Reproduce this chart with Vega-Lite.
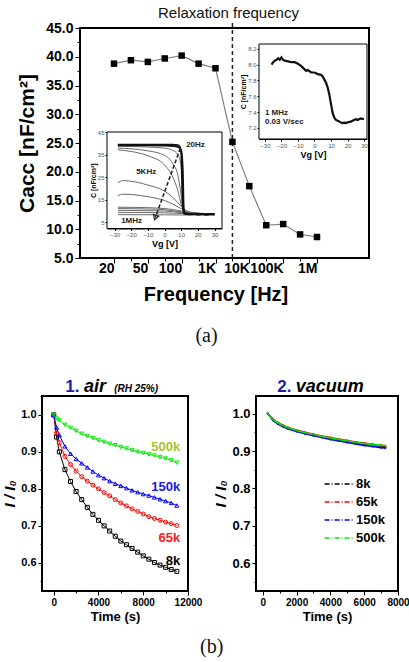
{
 "$schema": "https://vega.github.io/schema/vega-lite/v6.json",
 "padding": {"left": 2, "top": 5, "right": 0, "bottom": 2},
 "background": "white",
 "config": {
   "font": "Liberation Sans",
   "view": {"stroke": "black", "strokeWidth": 2},
   "axis": {"grid": false, "domainColor": "black", "tickColor": "black", "labelColor": "black", "titleColor": "black", "labelFontWeight": "bold", "titleFontWeight": "bold", "labelOverlap": false, "labelFlush": false}
 },
 "datasets": {
   "main": [
     {"freq": "20", "C": 38.8}, {"freq": "30", "C": 39.4}, {"freq": "50", "C": 39.1}, {"freq": "70", "C": 39.7},
     {"freq": "100", "C": 40.2}, {"freq": "500", "C": 38.8}, {"freq": "1K", "C": 38.0}, {"freq": "5K", "C": 25.2},
     {"freq": "10K", "C": 17.5}, {"freq": "50K", "C": 10.7}, {"freq": "100K", "C": 10.9}, {"freq": "500K", "C": 9.1},
     {"freq": "1M", "C": 8.65}
   ],
   "insetL": [
     {"curve": "c1", "Vg": -28, "C": 39.6}, {"curve": "c1", "Vg": -20, "C": 39.5}, {"curve": "c1", "Vg": -10, "C": 39.6}, {"curve": "c1", "Vg": 0, "C": 39.5}, {"curve": "c1", "Vg": 5, "C": 39.5}, {"curve": "c1", "Vg": 8, "C": 39.3}, {"curve": "c1", "Vg": 9, "C": 38.8}, {"curve": "c1", "Vg": 10, "C": 36}, {"curve": "c1", "Vg": 10.5, "C": 24}, {"curve": "c1", "Vg": 11, "C": 12}, {"curve": "c1", "Vg": 11.5, "C": 9.2}, {"curve": "c1", "Vg": 12, "C": 8.6}, {"curve": "c1", "Vg": 15, "C": 8.4}, {"curve": "c1", "Vg": 18, "C": 8.7}, {"curve": "c1", "Vg": 20, "C": 8.3}, {"curve": "c1", "Vg": 23, "C": 8.6}, {"curve": "c1", "Vg": 25, "C": 8.2}, {"curve": "c1", "Vg": 28, "C": 8.6}, {"curve": "c1", "Vg": 30, "C": 8.3},
     {"curve": "c2", "Vg": -28, "C": 39.2}, {"curve": "c2", "Vg": -10, "C": 39.2}, {"curve": "c2", "Vg": 0, "C": 39.1}, {"curve": "c2", "Vg": 5, "C": 38.9}, {"curve": "c2", "Vg": 8, "C": 38.5}, {"curve": "c2", "Vg": 10, "C": 37}, {"curve": "c2", "Vg": 11, "C": 28}, {"curve": "c2", "Vg": 11.5, "C": 12}, {"curve": "c2", "Vg": 12, "C": 9.2}, {"curve": "c2", "Vg": 15, "C": 8.6}, {"curve": "c2", "Vg": 30, "C": 8.5},
     {"curve": "c3", "Vg": -28, "C": 38.8}, {"curve": "c3", "Vg": -10, "C": 38.5}, {"curve": "c3", "Vg": 0, "C": 38}, {"curve": "c3", "Vg": 5, "C": 37}, {"curve": "c3", "Vg": 8, "C": 35}, {"curve": "c3", "Vg": 10, "C": 30}, {"curve": "c3", "Vg": 11, "C": 14}, {"curve": "c3", "Vg": 12, "C": 9.3}, {"curve": "c3", "Vg": 15, "C": 8.7}, {"curve": "c3", "Vg": 30, "C": 8.5},
     {"curve": "c4", "Vg": -28, "C": 38}, {"curve": "c4", "Vg": -20, "C": 37.7}, {"curve": "c4", "Vg": -10, "C": 36.8}, {"curve": "c4", "Vg": 0, "C": 34.8}, {"curve": "c4", "Vg": 5, "C": 31}, {"curve": "c4", "Vg": 8, "C": 26}, {"curve": "c4", "Vg": 10, "C": 17}, {"curve": "c4", "Vg": 11, "C": 11}, {"curve": "c4", "Vg": 12, "C": 9.3}, {"curve": "c4", "Vg": 15, "C": 8.8}, {"curve": "c4", "Vg": 30, "C": 8.5},
     {"curve": "c5", "Vg": -28, "C": 37.2}, {"curve": "c5", "Vg": -20, "C": 36.5}, {"curve": "c5", "Vg": -10, "C": 34.6}, {"curve": "c5", "Vg": 0, "C": 30.5}, {"curve": "c5", "Vg": 5, "C": 25}, {"curve": "c5", "Vg": 8, "C": 19}, {"curve": "c5", "Vg": 10, "C": 13}, {"curve": "c5", "Vg": 12, "C": 9.8}, {"curve": "c5", "Vg": 15, "C": 9}, {"curve": "c5", "Vg": 30, "C": 8.6},
     {"curve": "c6", "Vg": -28, "C": 22.5}, {"curve": "c6", "Vg": -25, "C": 23.5}, {"curve": "c6", "Vg": -20, "C": 23.2}, {"curve": "c6", "Vg": -10, "C": 21.5}, {"curve": "c6", "Vg": 0, "C": 18.8}, {"curve": "c6", "Vg": 5, "C": 16}, {"curve": "c6", "Vg": 10, "C": 12}, {"curve": "c6", "Vg": 13, "C": 10}, {"curve": "c6", "Vg": 15, "C": 9.4}, {"curve": "c6", "Vg": 20, "C": 8.9}, {"curve": "c6", "Vg": 30, "C": 8.6},
     {"curve": "c7", "Vg": -28, "C": 16.8}, {"curve": "c7", "Vg": -25, "C": 17.4}, {"curve": "c7", "Vg": -20, "C": 17.3}, {"curve": "c7", "Vg": -10, "C": 16.3}, {"curve": "c7", "Vg": 0, "C": 14.6}, {"curve": "c7", "Vg": 5, "C": 13}, {"curve": "c7", "Vg": 10, "C": 11}, {"curve": "c7", "Vg": 15, "C": 9.5}, {"curve": "c7", "Vg": 20, "C": 8.9}, {"curve": "c7", "Vg": 30, "C": 8.6},
     {"curve": "c8", "Vg": -28, "C": 11.6}, {"curve": "c8", "Vg": -10, "C": 11.4}, {"curve": "c8", "Vg": 0, "C": 11}, {"curve": "c8", "Vg": 5, "C": 10.6}, {"curve": "c8", "Vg": 10, "C": 9.9}, {"curve": "c8", "Vg": 15, "C": 9.2}, {"curve": "c8", "Vg": 30, "C": 8.6},
     {"curve": "c9", "Vg": -28, "C": 11}, {"curve": "c9", "Vg": -10, "C": 10.8}, {"curve": "c9", "Vg": 0, "C": 10.5}, {"curve": "c9", "Vg": 10, "C": 9.5}, {"curve": "c9", "Vg": 15, "C": 9}, {"curve": "c9", "Vg": 30, "C": 8.5},
     {"curve": "c10", "Vg": -28, "C": 10.2}, {"curve": "c10", "Vg": 0, "C": 9.9}, {"curve": "c10", "Vg": 10, "C": 9.2}, {"curve": "c10", "Vg": 15, "C": 8.8}, {"curve": "c10", "Vg": 30, "C": 8.4},
     {"curve": "c11", "Vg": -28, "C": 9.3}, {"curve": "c11", "Vg": 0, "C": 9.1}, {"curve": "c11", "Vg": 15, "C": 8.6}, {"curve": "c11", "Vg": 30, "C": 8.3},
     {"curve": "c12", "Vg": -28, "C": 8.3}, {"curve": "c12", "Vg": 0, "C": 8.2}, {"curve": "c12", "Vg": 30, "C": 8.0}
   ],
   "insetLLabels": [
     {"label": "20Hz", "Vg": 13, "C": 39.5},
     {"label": "5KHz", "Vg": -17, "C": 27.5},
     {"label": "1MHz", "Vg": -26, "C": 5.3}
   ],
   "arrowL": [{"Vg": 9.5, "C": 38, "Vg2": -5.5, "C2": 7}],
   "insetR": [
     {"Vg": -26, "C": 8.0}, {"Vg": -25, "C": 8.03}, {"Vg": -24, "C": 8.05}, {"Vg": -23, "C": 8.06}, {"Vg": -22, "C": 8.08}, {"Vg": -21, "C": 8.06}, {"Vg": -20, "C": 8.09}, {"Vg": -19, "C": 8.06}, {"Vg": -18, "C": 8.05}, {"Vg": -16, "C": 8.04}, {"Vg": -14, "C": 8.03}, {"Vg": -12, "C": 8.03}, {"Vg": -10, "C": 8.01}, {"Vg": -8, "C": 7.98}, {"Vg": -6, "C": 7.94}, {"Vg": -5, "C": 7.92}, {"Vg": -4, "C": 7.93}, {"Vg": -2, "C": 7.9}, {"Vg": 0, "C": 7.9}, {"Vg": 2, "C": 7.88}, {"Vg": 4, "C": 7.87}, {"Vg": 5, "C": 7.85}, {"Vg": 6, "C": 7.81}, {"Vg": 7, "C": 7.77}, {"Vg": 8, "C": 7.71}, {"Vg": 9, "C": 7.62}, {"Vg": 10, "C": 7.5}, {"Vg": 11, "C": 7.39}, {"Vg": 12, "C": 7.33}, {"Vg": 13, "C": 7.3}, {"Vg": 14, "C": 7.29}, {"Vg": 15, "C": 7.28}, {"Vg": 16, "C": 7.27}, {"Vg": 17, "C": 7.26}, {"Vg": 18, "C": 7.27}, {"Vg": 19, "C": 7.26}, {"Vg": 20, "C": 7.27}, {"Vg": 22, "C": 7.28}, {"Vg": 24, "C": 7.3}, {"Vg": 25, "C": 7.31}, {"Vg": 26, "C": 7.3}, {"Vg": 28, "C": 7.32}, {"Vg": 30, "C": 7.31}
   ],
   "insetRLabels": [
     {"label": "1 MHz", "Vg": -30, "C": 7.39},
     {"label": "0.03 V/sec", "Vg": -30, "C": 7.27}
   ],
   "air": [
     {"freq": "8k", "t": 0, "r": 1.0}, {"freq": "8k", "t": 250, "r": 0.94}, {"freq": "8k", "t": 500, "r": 0.9}, {"freq": "8k", "t": 1000, "r": 0.852}, {"freq": "8k", "t": 1500, "r": 0.82}, {"freq": "8k", "t": 2000, "r": 0.793}, {"freq": "8k", "t": 2500, "r": 0.771}, {"freq": "8k", "t": 3000, "r": 0.75}, {"freq": "8k", "t": 3500, "r": 0.731}, {"freq": "8k", "t": 4000, "r": 0.715}, {"freq": "8k", "t": 4500, "r": 0.7}, {"freq": "8k", "t": 5000, "r": 0.686}, {"freq": "8k", "t": 5500, "r": 0.672}, {"freq": "8k", "t": 6000, "r": 0.659}, {"freq": "8k", "t": 6500, "r": 0.649}, {"freq": "8k", "t": 7000, "r": 0.639}, {"freq": "8k", "t": 7500, "r": 0.629}, {"freq": "8k", "t": 8000, "r": 0.619}, {"freq": "8k", "t": 8500, "r": 0.61}, {"freq": "8k", "t": 9000, "r": 0.601}, {"freq": "8k", "t": 9500, "r": 0.594}, {"freq": "8k", "t": 10000, "r": 0.588}, {"freq": "8k", "t": 10500, "r": 0.582}, {"freq": "8k", "t": 11000, "r": 0.577},
     {"freq": "65k", "t": 0, "r": 1.0}, {"freq": "65k", "t": 250, "r": 0.95}, {"freq": "65k", "t": 500, "r": 0.925}, {"freq": "65k", "t": 1000, "r": 0.888}, {"freq": "65k", "t": 1500, "r": 0.866}, {"freq": "65k", "t": 2000, "r": 0.848}, {"freq": "65k", "t": 2500, "r": 0.833}, {"freq": "65k", "t": 3000, "r": 0.821}, {"freq": "65k", "t": 3500, "r": 0.81}, {"freq": "65k", "t": 4000, "r": 0.8}, {"freq": "65k", "t": 4500, "r": 0.79}, {"freq": "65k", "t": 5000, "r": 0.781}, {"freq": "65k", "t": 5500, "r": 0.771}, {"freq": "65k", "t": 6000, "r": 0.762}, {"freq": "65k", "t": 6500, "r": 0.754}, {"freq": "65k", "t": 7000, "r": 0.746}, {"freq": "65k", "t": 7500, "r": 0.739}, {"freq": "65k", "t": 8000, "r": 0.732}, {"freq": "65k", "t": 8500, "r": 0.725}, {"freq": "65k", "t": 9000, "r": 0.72}, {"freq": "65k", "t": 9500, "r": 0.715}, {"freq": "65k", "t": 10000, "r": 0.71}, {"freq": "65k", "t": 10500, "r": 0.706}, {"freq": "65k", "t": 11000, "r": 0.701},
     {"freq": "150k", "t": 0, "r": 1.0}, {"freq": "150k", "t": 250, "r": 0.966}, {"freq": "150k", "t": 500, "r": 0.945}, {"freq": "150k", "t": 1000, "r": 0.915}, {"freq": "150k", "t": 1500, "r": 0.895}, {"freq": "150k", "t": 2000, "r": 0.881}, {"freq": "150k", "t": 2500, "r": 0.869}, {"freq": "150k", "t": 3000, "r": 0.858}, {"freq": "150k", "t": 3500, "r": 0.847}, {"freq": "150k", "t": 4000, "r": 0.837}, {"freq": "150k", "t": 4500, "r": 0.829}, {"freq": "150k", "t": 5000, "r": 0.821}, {"freq": "150k", "t": 5500, "r": 0.814}, {"freq": "150k", "t": 6000, "r": 0.808}, {"freq": "150k", "t": 6500, "r": 0.802}, {"freq": "150k", "t": 7000, "r": 0.796}, {"freq": "150k", "t": 7500, "r": 0.791}, {"freq": "150k", "t": 8000, "r": 0.786}, {"freq": "150k", "t": 8500, "r": 0.782}, {"freq": "150k", "t": 9000, "r": 0.777}, {"freq": "150k", "t": 9500, "r": 0.772}, {"freq": "150k", "t": 10000, "r": 0.767}, {"freq": "150k", "t": 10500, "r": 0.762}, {"freq": "150k", "t": 11000, "r": 0.755},
     {"freq": "500k", "t": 0, "r": 1.0}, {"freq": "500k", "t": 250, "r": 0.99}, {"freq": "500k", "t": 500, "r": 0.985}, {"freq": "500k", "t": 1000, "r": 0.973}, {"freq": "500k", "t": 1500, "r": 0.965}, {"freq": "500k", "t": 2000, "r": 0.957}, {"freq": "500k", "t": 2500, "r": 0.949}, {"freq": "500k", "t": 3000, "r": 0.943}, {"freq": "500k", "t": 3500, "r": 0.937}, {"freq": "500k", "t": 4000, "r": 0.931}, {"freq": "500k", "t": 4500, "r": 0.927}, {"freq": "500k", "t": 5000, "r": 0.922}, {"freq": "500k", "t": 5500, "r": 0.918}, {"freq": "500k", "t": 6000, "r": 0.913}, {"freq": "500k", "t": 6500, "r": 0.909}, {"freq": "500k", "t": 7000, "r": 0.904}, {"freq": "500k", "t": 7500, "r": 0.9}, {"freq": "500k", "t": 8000, "r": 0.897}, {"freq": "500k", "t": 8500, "r": 0.893}, {"freq": "500k", "t": 9000, "r": 0.89}, {"freq": "500k", "t": 9500, "r": 0.886}, {"freq": "500k", "t": 10000, "r": 0.882}, {"freq": "500k", "t": 10500, "r": 0.877}, {"freq": "500k", "t": 11000, "r": 0.871}
   ],
   "airLabels": [
     {"freq": "500k", "t": 11300, "r": 0.912},
     {"freq": "150k", "t": 11300, "r": 0.805},
     {"freq": "65k", "t": 11300, "r": 0.668},
     {"freq": "8k", "t": 11300, "r": 0.605}
   ],
   "vac": [
     {"freq": "8k", "t": 300, "r": 1.0}, {"freq": "8k", "t": 600, "r": 0.984}, {"freq": "8k", "t": 900, "r": 0.974}, {"freq": "8k", "t": 1200, "r": 0.967}, {"freq": "8k", "t": 1500, "r": 0.961}, {"freq": "8k", "t": 2000, "r": 0.954}, {"freq": "8k", "t": 2500, "r": 0.948}, {"freq": "8k", "t": 3000, "r": 0.943}, {"freq": "8k", "t": 3500, "r": 0.938}, {"freq": "8k", "t": 4000, "r": 0.934}, {"freq": "8k", "t": 4500, "r": 0.93}, {"freq": "8k", "t": 5000, "r": 0.926}, {"freq": "8k", "t": 5500, "r": 0.922}, {"freq": "8k", "t": 6000, "r": 0.919}, {"freq": "8k", "t": 6500, "r": 0.916}, {"freq": "8k", "t": 7000, "r": 0.913}, {"freq": "8k", "t": 7250, "r": 0.911},
     {"freq": "65k", "t": 300, "r": 1.0}, {"freq": "65k", "t": 600, "r": 0.985}, {"freq": "65k", "t": 900, "r": 0.976}, {"freq": "65k", "t": 1200, "r": 0.969}, {"freq": "65k", "t": 1500, "r": 0.963}, {"freq": "65k", "t": 2000, "r": 0.956}, {"freq": "65k", "t": 2500, "r": 0.95}, {"freq": "65k", "t": 3000, "r": 0.945}, {"freq": "65k", "t": 3500, "r": 0.94}, {"freq": "65k", "t": 4000, "r": 0.936}, {"freq": "65k", "t": 4500, "r": 0.932}, {"freq": "65k", "t": 5000, "r": 0.928}, {"freq": "65k", "t": 5500, "r": 0.924}, {"freq": "65k", "t": 6000, "r": 0.921}, {"freq": "65k", "t": 6500, "r": 0.918}, {"freq": "65k", "t": 7000, "r": 0.915}, {"freq": "65k", "t": 7250, "r": 0.914},
     {"freq": "150k", "t": 300, "r": 1.0}, {"freq": "150k", "t": 600, "r": 0.982}, {"freq": "150k", "t": 900, "r": 0.972}, {"freq": "150k", "t": 1200, "r": 0.965}, {"freq": "150k", "t": 1500, "r": 0.959}, {"freq": "150k", "t": 2000, "r": 0.952}, {"freq": "150k", "t": 2500, "r": 0.946}, {"freq": "150k", "t": 3000, "r": 0.941}, {"freq": "150k", "t": 3500, "r": 0.936}, {"freq": "150k", "t": 4000, "r": 0.931}, {"freq": "150k", "t": 4500, "r": 0.927}, {"freq": "150k", "t": 5000, "r": 0.923}, {"freq": "150k", "t": 5500, "r": 0.919}, {"freq": "150k", "t": 6000, "r": 0.915}, {"freq": "150k", "t": 6500, "r": 0.912}, {"freq": "150k", "t": 7000, "r": 0.909}, {"freq": "150k", "t": 7250, "r": 0.908},
     {"freq": "500k", "t": 300, "r": 1.0}, {"freq": "500k", "t": 600, "r": 0.984}, {"freq": "500k", "t": 900, "r": 0.975}, {"freq": "500k", "t": 1200, "r": 0.968}, {"freq": "500k", "t": 1500, "r": 0.962}, {"freq": "500k", "t": 2000, "r": 0.955}, {"freq": "500k", "t": 2500, "r": 0.949}, {"freq": "500k", "t": 3000, "r": 0.944}, {"freq": "500k", "t": 3500, "r": 0.939}, {"freq": "500k", "t": 4000, "r": 0.935}, {"freq": "500k", "t": 4500, "r": 0.931}, {"freq": "500k", "t": 5000, "r": 0.927}, {"freq": "500k", "t": 5500, "r": 0.923}, {"freq": "500k", "t": 6000, "r": 0.92}, {"freq": "500k", "t": 6500, "r": 0.917}, {"freq": "500k", "t": 7000, "r": 0.915}, {"freq": "500k", "t": 7250, "r": 0.914}
   ]
 },
 "bounds": "flush",
 "center": true,
 "spacing": 138,
 "resolve": {"scale": {"color": "independent", "fill": "independent"}, "legend": {"color": "independent"}},
 "vconcat": [
   {
     "width": 289,
     "height": 230,
     "title": {"text": "(a)", "orient": "bottom", "font": "Liberation Serif", "fontSize": 20, "fontWeight": "normal", "anchor": "middle", "frame": "group", "dx": -18, "offset": 22, "color": "#111"},
     "resolve": {"scale": {"x": "independent", "y": "independent"}, "axis": {"x": "independent", "y": "independent"}},
     "layer": [
       {
         "layer": [
           {
             "data": {"values": [{}]},
             "mark": {"type": "rule", "strokeDash": [4, 3], "strokeWidth": 1.5, "color": "#222"},
             "encoding": {"x": {"datum": "5K", "type": "ordinal"}, "y": {"datum": 5, "type": "quantitative"}, "y2": {"datum": 46.4}}
           },
           {
             "data": {"values": [{}]},
             "mark": {"type": "text", "text": "Relaxation frequency", "fontSize": 15, "color": "#111", "baseline": "middle", "align": "center", "dx": -4},
             "encoding": {"x": {"datum": "5K", "type": "ordinal"}, "y": {"datum": 47.6, "type": "quantitative"}}
           },
           {
             "data": {"name": "main"},
             "mark": {"type": "line", "color": "#808080", "strokeWidth": 1.2},
             "encoding": {
               "x": {"field": "freq", "type": "ordinal", "sort": null,
                 "scale": {"type": "point", "domain": ["20", "30", "50", "70", "100", "500", "1K", "5K", "10K", "50K", "100K", "500K", "1M"], "range": [34, 237], "padding": 0},
                 "axis": {"orient": "bottom", "title": "Frequency [Hz]", "titleFontSize": 20, "labelFontSize": 14, "labelAngle": 0, "labelPadding": 5, "titlePadding": 9, "labelOverlap": false,
                   "tickSize": {"condition": {"test": "indexof(['20','50','100','1K','10K','100K','1M'], datum.value) >= 0", "value": 5}, "value": 3},
                   "labelExpr": "indexof(['20','50','100','1K','10K','100K','1M'], datum.value) >= 0 ? datum.value : ''"}},
               "y": {"field": "C", "type": "quantitative",
                 "scale": {"domain": [5, 45], "nice": false, "zero": false},
                 "axis": {"orient": "left", "title": "Cacc [nF/cm²]", "titleFontSize": 21, "labelFontSize": 14, "titlePadding": 8, "labelOverlap": false, "tickCount": 100,
                   "values": [5, 7.5, 10, 12.5, 15, 17.5, 20, 22.5, 25, 27.5, 30, 32.5, 35, 37.5, 40, 42.5, 45],
                   "tickSize": {"condition": {"test": "datum.value % 5 == 0", "value": 5}, "value": 3},
                   "labelExpr": "datum.value % 5 == 0 ? format(datum.value, '.1f') : ''"}}
             }
           },
           {
             "data": {"name": "main"},
             "mark": {"type": "square", "filled": true, "color": "black", "size": 42, "opacity": 1},
             "encoding": {
               "x": {"field": "freq", "type": "ordinal", "sort": null},
               "y": {"field": "C", "type": "quantitative"}
             }
           }
         ]
       },
       {
         "layer": [
           {
             "data": {"values": [{}]},
             "mark": {"type": "rect", "fill": "white", "stroke": "black", "strokeWidth": 1},
             "encoding": {
               "x": {"datum": -34.5, "type": "quantitative",
                 "scale": {"domain": [-34.5, 34.5], "range": [27, 142], "nice": false, "zero": false},
                 "axis": {"orient": "bottom", "offset": -29.5, "values": [-30, -20, -10, 0, 10, 20, 30], "format": "d", "labelFontSize": 6, "labelFontWeight": "normal", "labelColor": "#4a5a4a", "tickSize": 2, "labelPadding": 1, "labelOverlap": false, "title": "Vg [V]", "titleFontSize": 9, "titlePadding": 2}},
               "x2": {"datum": 34.5},
               "y": {"datum": 2.1, "type": "quantitative",
                 "scale": {"domain": [2.1, 45.2], "range": [200.5, 104], "nice": false, "zero": false},
                 "axis": {"orient": "left", "offset": -27, "values": [5, 10, 15, 20, 25, 30, 35, 40, 45], "format": "d", "labelFontSize": 6, "labelFontWeight": "normal", "labelColor": "#4a5a4a", "tickSize": 2, "labelPadding": 1, "labelOverlap": false, "title": "C [nF/cm²]", "titleFontSize": 7, "titlePadding": 1}},
               "y2": {"datum": 45.2}
             }
           },
           {
             "data": {"name": "insetL"},
             "transform": [{"filter": "datum.curve != 'c1' && datum.curve != 'c2'"}],
             "mark": {"type": "line", "color": "#6a6a6a", "strokeWidth": 1, "interpolate": "monotone"},
             "encoding": {
               "x": {"field": "Vg", "type": "quantitative"},
               "y": {"field": "C", "type": "quantitative"},
               "detail": {"field": "curve"}
             }
           },
           {
             "data": {"name": "insetL"},
             "transform": [{"filter": "datum.curve == 'c1' || datum.curve == 'c2'"}],
             "mark": {"type": "line", "color": "#111", "strokeWidth": 1.8, "interpolate": "monotone"},
             "encoding": {
               "x": {"field": "Vg", "type": "quantitative"},
               "y": {"field": "C", "type": "quantitative"},
               "detail": {"field": "curve"}
             }
           },
           {
             "data": {"name": "arrowL"},
             "mark": {"type": "rule", "strokeDash": [4, 2], "strokeWidth": 1.5, "color": "#222"},
             "encoding": {
               "x": {"field": "Vg", "type": "quantitative"},
               "y": {"field": "C", "type": "quantitative"},
               "x2": {"field": "Vg2"},
               "y2": {"field": "C2"}
             }
           },
           {
             "data": {"name": "arrowL"},
             "mark": {"type": "point", "shape": "triangle-up", "angle": 200, "filled": false, "size": 30, "color": "#222", "strokeWidth": 1.2, "opacity": 1},
             "encoding": {
               "x": {"field": "Vg2", "type": "quantitative"},
               "y": {"field": "C2", "type": "quantitative"}
             }
           },
           {
             "data": {"name": "insetLLabels"},
             "mark": {"type": "text", "align": "left", "baseline": "middle", "fontSize": 8, "fontWeight": "bold", "color": "#222"},
             "encoding": {
               "x": {"field": "Vg", "type": "quantitative"},
               "y": {"field": "C", "type": "quantitative"},
               "text": {"field": "label"}
             }
           }
         ]
       },
       {
         "layer": [
           {
             "data": {"values": [{}]},
             "mark": {"type": "rect", "fill": "white", "stroke": "black", "strokeWidth": 1},
             "encoding": {
               "x": {"datum": -33.6, "type": "quantitative",
                 "scale": {"domain": [-33.6, 31.8], "range": [179, 287], "nice": false, "zero": false},
                 "axis": {"orient": "bottom", "offset": -119, "values": [-30, -20, -10, 0, 10, 20, 30], "format": "d", "labelFontSize": 6, "labelFontWeight": "normal", "labelColor": "#4a5a4a", "tickSize": 2, "labelPadding": 1, "labelOverlap": false, "title": "Vg [V]", "titleFontSize": 9, "titlePadding": 2}},
               "x2": {"datum": 31.8},
               "y": {"datum": 7.06, "type": "quantitative",
                 "scale": {"domain": [7.06, 8.26], "range": [111, 16], "nice": false, "zero": false},
                 "axis": {"orient": "left", "offset": -179, "values": [7.2, 7.4, 7.6, 7.8, 8.0, 8.2], "format": ".1f", "labelFontSize": 6, "labelFontWeight": "normal", "labelColor": "#4a5a4a", "tickSize": 2, "labelPadding": 1, "labelOverlap": false, "title": "C [nF/cm²]", "titleFontSize": 7, "titlePadding": 1}},
               "y2": {"datum": 8.26}
             }
           },
           {
             "data": {"name": "insetR"},
             "mark": {"type": "line", "color": "#111", "strokeWidth": 2.2},
             "encoding": {
               "x": {"field": "Vg", "type": "quantitative"},
               "y": {"field": "C", "type": "quantitative"}
             }
           },
           {
             "data": {"name": "insetRLabels"},
             "mark": {"type": "text", "align": "left", "baseline": "middle", "fontSize": 8, "fontWeight": "bold", "color": "#222"},
             "encoding": {
               "x": {"field": "Vg", "type": "quantitative"},
               "y": {"field": "C", "type": "quantitative"},
               "text": {"field": "label"}
             }
           }
         ]
       }
     ]
   },
   {
     "width": 365,
     "height": 195,
     "view": {"stroke": null},
     "title": {"text": "(b)", "orient": "bottom", "font": "Liberation Serif", "fontSize": 20, "fontWeight": "normal", "anchor": "start", "frame": "group", "dx": 158, "offset": 14, "color": "#111"},
     "resolve": {"scale": {"x": "independent", "y": "independent"}, "axis": {"x": "independent", "y": "independent"}},
     "layer": [
       {
         "layer": [
           {
             "data": {"values": [{}]},
             "mark": {"type": "rect", "filled": false, "color": "black", "strokeWidth": 2},
             "encoding": {
               "x": {"datum": -1050, "type": "quantitative",
                 "scale": {"domain": [-1050, 12000], "range": [0, 146], "nice": false, "zero": false},
                 "axis": {"orient": "bottom", "title": "Time (s)", "titleFontSize": 13, "labelFontSize": 10, "titlePadding": 3, "labelPadding": 2, "labelOverlap": false, "tickCount": 100,
                   "values": [0, 2000, 4000, 6000, 8000, 10000, 12000],
                   "tickSize": {"condition": {"test": "datum.value % 4000 == 0", "value": 4}, "value": 2},
                   "labelExpr": "datum.value % 4000 == 0 ? datum.value : ''"}},
               "x2": {"datum": 12000},
               "y": {"datum": 0.524, "type": "quantitative",
                 "scale": {"domain": [0.524, 1.051], "nice": false, "zero": false},
                 "axis": {"orient": "left", "title": "I / I₀", "titleFontStyle": "italic", "titleFontSize": 15, "labelFontSize": 11, "titlePadding": 3, "labelPadding": 2, "labelOverlap": false, "tickCount": 100,
                   "values": [0.55, 0.6, 0.65, 0.7, 0.75, 0.8, 0.85, 0.9, 0.95, 1.0, 1.05],
                   "tickSize": {"condition": {"test": "round(datum.value*100) % 10 == 0", "value": 4}, "value": 2},
                   "labelExpr": "round(datum.value*100) % 10 == 0 ? format(datum.value, '.1f') : ''"}},
               "y2": {"datum": 1.051}
             }
           },
           {
             "data": {"name": "air"},
             "mark": {"type": "line", "strokeWidth": 1},
             "encoding": {
               "x": {"field": "t", "type": "quantitative"},
               "y": {"field": "r", "type": "quantitative"},
               "color": {"field": "freq", "type": "nominal",
                 "scale": {"domain": ["8k", "65k", "150k", "500k"], "range": ["black", "#ff0000", "#0000ff", "#00ee00"]}}
             }
           },
           {
             "data": {"name": "air"},
             "transform": [{"filter": "datum.freq == '8k'"}],
             "mark": {"type": "point", "shape": "square", "filled": false, "size": 16, "strokeWidth": 1, "opacity": 1},
             "encoding": {"x": {"field": "t", "type": "quantitative"}, "y": {"field": "r", "type": "quantitative"}, "color": {"field": "freq", "type": "nominal"}}
           },
           {
             "data": {"name": "air"},
             "transform": [{"filter": "datum.freq == '65k'"}],
             "mark": {"type": "point", "shape": "circle", "filled": false, "size": 16, "strokeWidth": 1, "opacity": 1},
             "encoding": {"x": {"field": "t", "type": "quantitative"}, "y": {"field": "r", "type": "quantitative"}, "color": {"field": "freq", "type": "nominal"}}
           },
           {
             "data": {"name": "air"},
             "transform": [{"filter": "datum.freq == '150k'"}],
             "mark": {"type": "point", "shape": "triangle-up", "filled": false, "size": 16, "strokeWidth": 1, "opacity": 1},
             "encoding": {"x": {"field": "t", "type": "quantitative"}, "y": {"field": "r", "type": "quantitative"}, "color": {"field": "freq", "type": "nominal"}}
           },
           {
             "data": {"name": "air"},
             "transform": [{"filter": "datum.freq == '500k'"}],
             "mark": {"type": "point", "shape": "triangle-down", "filled": false, "size": 16, "strokeWidth": 1, "opacity": 1},
             "encoding": {"x": {"field": "t", "type": "quantitative"}, "y": {"field": "r", "type": "quantitative"}, "color": {"field": "freq", "type": "nominal"}}
           },
           {
             "data": {"name": "airLabels"},
             "mark": {"type": "text", "align": "right", "baseline": "middle", "fontSize": 13, "fontWeight": "bold"},
             "encoding": {
               "x": {"field": "t", "type": "quantitative"},
               "y": {"field": "r", "type": "quantitative"},
               "text": {"field": "freq"},
               "fill": {"field": "freq", "type": "nominal",
                 "scale": {"domain": ["8k", "65k", "150k", "500k"], "range": ["black", "#ff1a1a", "#1a1ae0", "#a6c62c"]}, "legend": null}
             }
           },
           {
             "data": {"values": [{}]},
             "mark": {"type": "text", "text": "1.", "align": "right", "baseline": "alphabetic", "fontSize": 17, "fontWeight": "bold", "color": "#1e1ea0"},
             "encoding": {"x": {"datum": 2300, "type": "quantitative"}, "y": {"datum": 1.062, "type": "quantitative"}}
           },
           {
             "data": {"values": [{}]},
             "mark": {"type": "text", "text": "air", "align": "left", "baseline": "alphabetic", "fontSize": 18, "fontWeight": "bold", "fontStyle": "italic", "color": "black"},
             "encoding": {"x": {"datum": 2700, "type": "quantitative"}, "y": {"datum": 1.062, "type": "quantitative"}}
           },
           {
             "data": {"values": [{}]},
             "mark": {"type": "text", "text": "(RH 25%)", "align": "left", "baseline": "alphabetic", "fontSize": 10, "fontWeight": "bold", "fontStyle": "italic", "color": "black"},
             "encoding": {"x": {"datum": 5400, "type": "quantitative"}, "y": {"datum": 1.062, "type": "quantitative"}}
           }
         ]
       },
       {
         "layer": [
           {
             "data": {"values": [{}]},
             "mark": {"type": "rect", "filled": false, "color": "black", "strokeWidth": 2},
             "encoding": {
               "x": {"datum": -400, "type": "quantitative",
                 "scale": {"domain": [-400, 8000], "range": [214, 356], "nice": false, "zero": false},
                 "axis": {"orient": "bottom", "title": "Time (s)", "titleFontSize": 13, "labelFontSize": 10, "titlePadding": 3, "labelPadding": 2, "labelOverlap": false, "tickCount": 100,
                   "values": [0, 1000, 2000, 3000, 4000, 5000, 6000, 7000, 8000],
                   "tickSize": {"condition": {"test": "datum.value % 2000 == 0", "value": 4}, "value": 2},
                   "labelExpr": "datum.value % 2000 == 0 ? datum.value : ''"}},
               "x2": {"datum": 8000},
               "y": {"datum": 0.526, "type": "quantitative",
                 "scale": {"domain": [0.526, 1.047], "nice": false, "zero": false},
                 "axis": {"orient": "left", "offset": -214, "title": "I / I₀", "titleFontStyle": "italic", "titleFontSize": 15, "labelFontSize": 13, "titlePadding": 3, "labelPadding": 2, "labelOverlap": false, "tickCount": 100,
                   "values": [0.55, 0.6, 0.65, 0.7, 0.75, 0.8, 0.85, 0.9, 0.95, 1.0],
                   "tickSize": {"condition": {"test": "round(datum.value*100) % 10 == 0", "value": 4}, "value": 2},
                   "labelExpr": "round(datum.value*100) % 10 == 0 ? format(datum.value, '.1f') : ''"}},
               "y2": {"datum": 1.047}
             }
           },
           {
             "data": {"name": "vac"},
             "mark": {"type": "line", "strokeWidth": 1.6},
             "encoding": {
               "x": {"field": "t", "type": "quantitative"},
               "y": {"field": "r", "type": "quantitative"},
               "color": {"field": "freq", "type": "nominal",
                 "legend": {"orient": "none", "legendX": 287, "legendY": 78, "padding": 0, "title": null, "symbolType": "M-1.6,0H1.6", "symbolStrokeWidth": 1.5, "symbolDash": [5, 2, 1, 2], "symbolSize": 324, "labelFontSize": 13, "labelFontWeight": "bold", "rowPadding": 1, "labelOffset": 7}}
             }
           },
           {
             "data": {"name": "vac"},
             "mark": {"type": "point", "filled": true, "size": 5, "opacity": 1},
             "encoding": {
               "x": {"field": "t", "type": "quantitative"},
               "y": {"field": "r", "type": "quantitative"},
               "color": {"field": "freq", "type": "nominal"}
             }
           },
           {
             "data": {"values": [{}]},
             "mark": {"type": "text", "text": "2.", "align": "right", "baseline": "alphabetic", "fontSize": 17, "fontWeight": "bold", "color": "#1e1ea0"},
             "encoding": {"x": {"datum": 1700, "type": "quantitative"}, "y": {"datum": 1.058, "type": "quantitative"}}
           },
           {
             "data": {"values": [{}]},
             "mark": {"type": "text", "text": "vacuum", "align": "left", "baseline": "alphabetic", "fontSize": 18, "fontWeight": "bold", "fontStyle": "italic", "color": "black"},
             "encoding": {"x": {"datum": 1950, "type": "quantitative"}, "y": {"datum": 1.058, "type": "quantitative"}}
           }
         ]
       }
     ]
   }
 ]
}
